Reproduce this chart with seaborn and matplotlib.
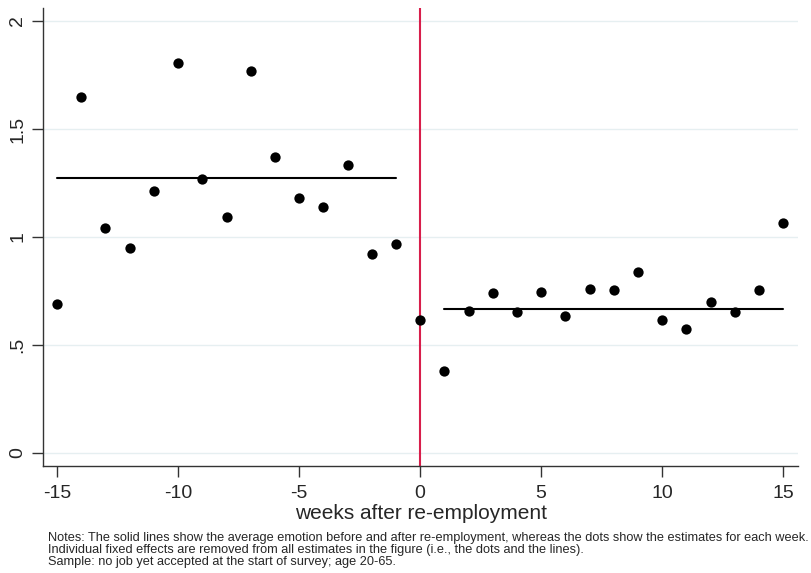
import numpy as np
import pandas as pd
import matplotlib
matplotlib.use("Agg")
import matplotlib.pyplot as plt
import seaborn as sns

weeks = list(range(-15, 16))
estimates = [0.688, 1.647, 1.042, 0.951, 1.214, 1.804, 1.267, 1.091, 1.769, 1.372,
             1.182, 1.137, 1.332, 0.920, 0.968, 0.616,
             0.381, 0.657, 0.742, 0.654, 0.747, 0.636, 0.758, 0.752, 0.839,
             0.614, 0.573, 0.701, 0.651, 0.756, 1.065]
pre_weeks = [-15, -1]
pre_mean = [1.273, 1.273]
post_weeks = [1, 15]
post_mean = [0.668, 0.668]
x_ticks = [-15, -10, -5, 0, 5, 10, 15]
y_ticks = [0, 0.5, 1, 1.5, 2]
y_labels = ["0", ".5", "1", "1.5", "2"]
notes = ("Notes: The solid lines show the average emotion before and after re-employment, whereas the dots show the estimates for each week.\n"
         "Individual fixed effects are removed from all estimates in the figure (i.e., the dots and the lines).\n"
         "Sample: no job yet accepted at the start of survey; age 20-65.")

sns.set_theme(style="white")
plt.rcParams['font.family'] = ['Liberation Sans', 'DejaVu Sans']

fig = plt.figure(figsize=(8.12, 5.73), dpi=100)
ax = fig.add_axes([0.053, 0.187, 0.930, 0.799])

df = pd.DataFrame({"week": weeks, "est": estimates})
for yv in y_ticks:
    ax.axhline(yv, color="#e6eff1", lw=1.0, zorder=0)
ax.axvline(0, color="#d81e4b", lw=1.5, zorder=1)
sns.lineplot(x=pre_weeks, y=pre_mean, color="black", lw=1.5, ax=ax, zorder=2)
sns.lineplot(x=post_weeks, y=post_mean, color="black", lw=1.5, ax=ax, zorder=2)
sns.scatterplot(data=df, x="week", y="est", color="black", s=55, edgecolor="black",
                linewidth=0, ax=ax, zorder=3)

ax.set_xlim(-15.58, 15.62)
ax.set_ylim(-0.06, 2.06)
ax.set_xticks(x_ticks)
ax.set_xticklabels([str(t) for t in x_ticks], fontsize=14)
ax.set_yticks(y_ticks)
ax.set_yticklabels(y_labels, fontsize=14, rotation=90, va="center")
ax.tick_params(axis="both", direction="out", length=8, width=1, color="#333333",
               bottom=True, left=True)
ax.tick_params(axis="x", pad=6)
ax.tick_params(axis="y", pad=4)
ax.set_xlabel("weeks after re-employment", fontsize=15, labelpad=1)
ax.set_ylabel("")
for side in ["top", "right"]:
    ax.spines[side].set_visible(False)
for side in ["left", "bottom"]:
    ax.spines[side].set_color("#333333")
    ax.spines[side].set_linewidth(1.0)

fig.text(0.059, 0.072, notes, fontsize=9.15, va="top", ha="left", linespacing=1.02)

fig.savefig("out.png", dpi=100, facecolor="white")
